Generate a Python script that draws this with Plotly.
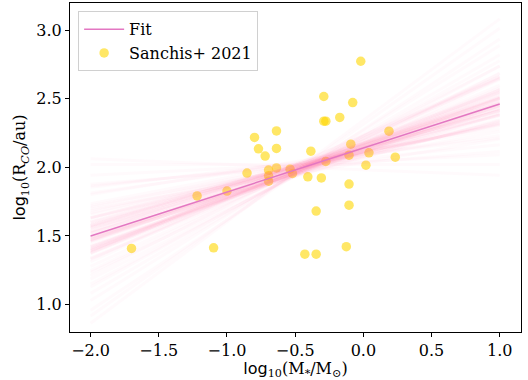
import numpy as np
import plotly.graph_objects as go

# Observed data (Sanchis+ 2021)
log_mstar = [-1.700, -1.219, -1.098, -1.000, -0.853, -0.798, -0.769, -0.720, -0.695, -0.695,
             -0.695, -0.637, -0.637, -0.637, -0.537, -0.520, -0.429, -0.407, -0.385, -0.346,
             -0.346, -0.308, -0.290, -0.290, -0.275, -0.275, -0.173, -0.125, -0.105, -0.105,
             -0.105, -0.092, -0.078, -0.019, 0.019, 0.041, 0.188, 0.234]
log_rco = [1.409, 1.792, 1.413, 1.827, 1.958, 2.218, 2.135, 2.082, 1.980, 1.938,
           1.899, 2.266, 2.138, 1.996, 1.987, 1.956, 1.367, 1.931, 2.118, 1.681,
           1.367, 1.923, 2.517, 2.337, 2.337, 2.043, 2.364, 1.421, 2.089, 1.878,
           1.724, 2.169, 2.473, 2.774, 2.016, 2.106, 2.264, 2.074]

# Best fit
fit_slope = 0.321
fit_intercept = 2.141
x_span = [-2.0, 1.0]

# Posterior samples (slope, value at pivot)
pivot_x = -0.45
sample_slopes = [0.32, 0.28, 0.41, 0.19, 0.35, 0.50, 0.27, 0.33, 0.12, 0.38,
                 0.45, 0.30, 0.22, 0.36, 0.58, 0.25, 0.31, 0.40, 0.16, 0.34,
                 0.29, 0.47, 0.05, 0.37, 0.26, 0.43, 0.33, 0.21, 0.62, 0.30,
                 0.39, 0.24, 0.35, 0.10, 0.44, 0.28, 0.32, 0.53, 0.18, 0.36,
                 0.31, 0.27, 0.70, 0.34, 0.23, 0.42, 0.29, 0.00, 0.38, 0.33,
                 0.14, 0.48, 0.26, 0.35, 0.31, 0.66, 0.20, 0.37, 0.30, 0.40,
                 -0.04, 0.28, 0.55, 0.33, 0.17, 0.39, 0.25, 0.46, 0.32, 0.74,
                 0.08, 0.36, 0.29, 0.42, 0.22, 0.34, 0.51, 0.27, 0.31, 0.38]
sample_pivot = [1.99, 2.01, 1.97, 2.03, 2.00, 1.96, 2.02, 1.98, 2.04, 1.99,
                2.01, 1.95, 2.00, 2.03, 1.98, 2.02, 1.97, 2.00, 2.05, 1.99,
                2.01, 1.96, 2.02, 1.98, 2.00, 2.04, 1.97, 2.01, 1.99, 2.03,
                1.98, 2.00, 1.96, 2.02, 2.01, 1.99, 2.03, 1.97, 2.00, 1.98,
                2.02, 1.95, 2.00, 2.01, 1.99, 2.04, 1.97, 2.02, 1.98, 2.00,
                2.03, 1.99, 1.96, 2.01, 2.00, 1.98, 2.02, 1.97, 2.04, 1.99,
                2.00, 2.01, 1.98, 2.03, 1.96, 2.00, 2.02, 1.99, 1.97, 2.01,
                2.00, 1.98, 2.03, 1.99, 2.01, 1.96, 2.00, 2.02, 1.98, 2.00]

PINK = "227,119,194"
SAMPLE = "255,105,180"
fig = go.Figure()
xs = np.array(x_span)

fig.add_trace(go.Scatter(x=log_mstar, y=log_rco, mode="markers",
                         marker=dict(color="gold", size=9.5, opacity=0.6, line=dict(width=0)),
                         name="Sanchis+ 2021", legendrank=2))

for s, p in zip(sample_slopes, sample_pivot):
    fig.add_trace(go.Scatter(x=xs, y=p + s * (xs - pivot_x), mode="lines",
                             line=dict(color=f"rgba({SAMPLE},0.035)", width=3),
                             showlegend=False, hoverinfo="skip"))

fig.add_trace(go.Scatter(x=xs, y=fit_intercept + fit_slope * xs, mode="lines",
                         line=dict(color=f"rgb({PINK})", width=1.5), name="Fit", legendrank=1))

axis_common = dict(showline=True, linecolor="black", linewidth=1, mirror=True,
                   ticks="outside", ticklen=4, tickcolor="black", showgrid=False,
                   zeroline=False, tickfont=dict(family="DejaVu Serif", size=16, color="black"))

fig.update_layout(
    width=528, height=380,
    margin=dict(l=70, r=7, t=3, b=48),
    plot_bgcolor="white", paper_bgcolor="white",
    font=dict(family="DejaVu Serif", color="black", size=16),
    xaxis=dict(range=[-2.151, 1.156], tickvals=[-2, -1.5, -1, -0.5, 0, 0.5, 1],
               ticktext=["\u22122.0", "\u22121.5", "\u22121.0", "\u22120.5", "0.0", "0.5", "1.0"],
               title=dict(text="<span style='font-family:DejaVu Sans'>log</span><sub>10</sub>(M<sub>*</sub>/M<sub>\u2299</sub>)",
                          font=dict(size=16), standoff=2),
               **axis_common),
    yaxis=dict(range=[0.799, 3.199], tickvals=[1.0, 1.5, 2.0, 2.5, 3.0],
               ticktext=["1.0", "1.5", "2.0", "2.5", "3.0"],
               title=dict(text="<span style='font-family:DejaVu Sans'>log</span><sub>10</sub>(R<sub><i>CO</i></sub>/au)",
                          font=dict(size=16), standoff=6),
               **axis_common),
    legend=dict(x=0.018, y=0.975, xanchor="left", yanchor="top",
                bgcolor="rgba(255,255,255,0.8)", bordercolor="#d0d0d0", borderwidth=1,
                itemwidth=40, tracegroupgap=0,
                font=dict(family="DejaVu Serif", size=16)),
)

fig.write_html("out.html")
